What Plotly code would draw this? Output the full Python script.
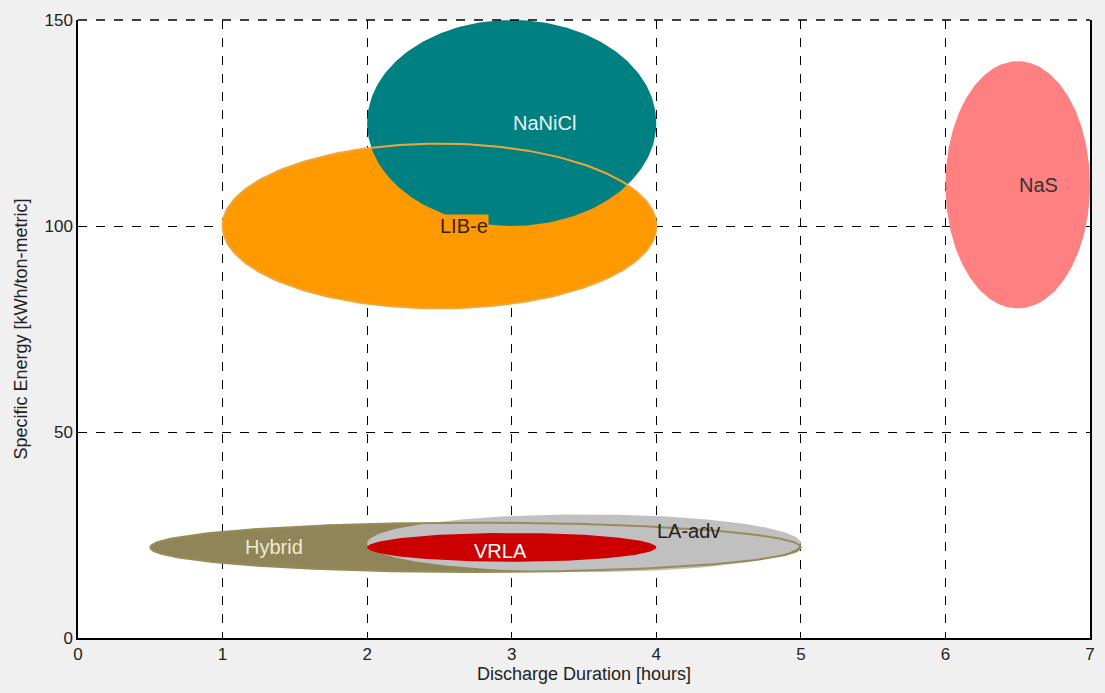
import numpy as np
import plotly.graph_objects as go

# Battery technologies: discharge-duration span and specific-energy span
techs = ["LIB-e", "NaNiCl", "NaS", "Hybrid", "LA-adv", "VRLA"]
dur_center = [2.5, 3.0, 6.5, 2.75, 3.5, 3.0]      # hours
dur_halfspan = [1.5, 1.0, 0.5, 2.25, 1.5, 1.0]    # hours
se_center = [100, 125, 110, 22, 23, 22]           # kWh/ton-metric
se_halfspan = [20, 25, 30, 6, 7, 3.5]             # kWh/ton-metric

fill_colors = ["rgb(255,153,0)", "rgb(0,128,128)", "rgb(255,128,128)",
               "rgb(143,133,88)", "rgb(192,192,192)", "rgb(204,0,0)"]
edge_colors = ["rgb(240,165,55)", None, None, "rgb(150,140,90)", None, None]

# label anchor (left edge of the text) and text colours
label_x = [2.5, 3.0, 6.5, 1.15, 4.0, 2.73]
label_y = [100, 125, 110, 22, 26, 21]
label_color = ["#3a2000", "#e8f4f4", "#333333", "#f0ead0", "#222222", "#ffffff"]

x_ticks = [0, 1, 2, 3, 4, 5, 6, 7]
y_ticks = [0, 50, 100, 150]

t = np.linspace(0, 2 * np.pi, 241)


def outline(i):
    xs = dur_center[i] + dur_halfspan[i] * np.cos(t)
    ys = se_center[i] + se_halfspan[i] * np.sin(t)
    return xs, ys


fig = go.Figure()

# filled regions, back to front
for i in range(len(techs)):
    xs, ys = outline(i)
    fig.add_trace(go.Scatter(x=xs, y=ys, mode="lines", fill="toself",
                             fillcolor=fill_colors[i], line=dict(width=0),
                             hoverinfo="skip", showlegend=False, name=techs[i]))

# edge outlines rendered above the fills
for i, ec in enumerate(edge_colors):
    if ec is None:
        continue
    xs, ys = outline(i)
    fig.add_trace(go.Scatter(x=xs, y=ys, mode="lines",
                             line=dict(color=ec, width=2),
                             hoverinfo="skip", showlegend=False))

label_font = "Liberation Sans, Arial, sans-serif"
for i, name in enumerate(techs):
    fig.add_annotation(
        x=label_x[i], y=label_y[i], text=name, showarrow=False,
        xanchor="left", yanchor="middle",
        font=dict(family=label_font, size=20, color=label_color[i]),
        bgcolor=fill_colors[0] if name == "LIB-e" else None,
        borderpad=0,
    )

# dashed top frame of the axes box
fig.add_shape(type="line", xref="paper", yref="paper", x0=0, x1=1, y0=1, y1=1,
              line=dict(color="black", width=1.5, dash="dash"))

tick_font = dict(family=label_font, size=17, color="#222222")
title_font = dict(family=label_font, size=18, color="#222222")

fig.update_layout(
    width=1105, height=693,
    margin=dict(l=78, r=15, t=20, b=55, autoexpand=False),
    paper_bgcolor="#f0f0f0", plot_bgcolor="white",
    xaxis=dict(
        range=[0, 7], tickvals=x_ticks, ticktext=[str(v) for v in x_ticks],
        showgrid=True, gridcolor="black", griddash="dash", gridwidth=1,
        showline=True, linecolor="black", linewidth=1.5, mirror=False,
        ticks="inside", ticklen=5, tickcolor="black",
        zeroline=False, tickfont=tick_font, automargin=False,
        title=dict(text="Discharge Duration [hours]", font=title_font, standoff=4),
    ),
    yaxis=dict(
        range=[0, 150], tickvals=y_ticks, ticktext=[str(v) for v in y_ticks],
        showgrid=True, gridcolor="black", griddash="dash", gridwidth=1,
        showline=True, linecolor="black", linewidth=1.5, mirror=True,
        ticks="inside", ticklen=5, tickcolor="black",
        zeroline=False, tickfont=tick_font, automargin=False,
        title=dict(text="Specific Energy [kWh/ton-metric]", font=title_font, standoff=12),
    ),
)

fig.write_html("out.html")
